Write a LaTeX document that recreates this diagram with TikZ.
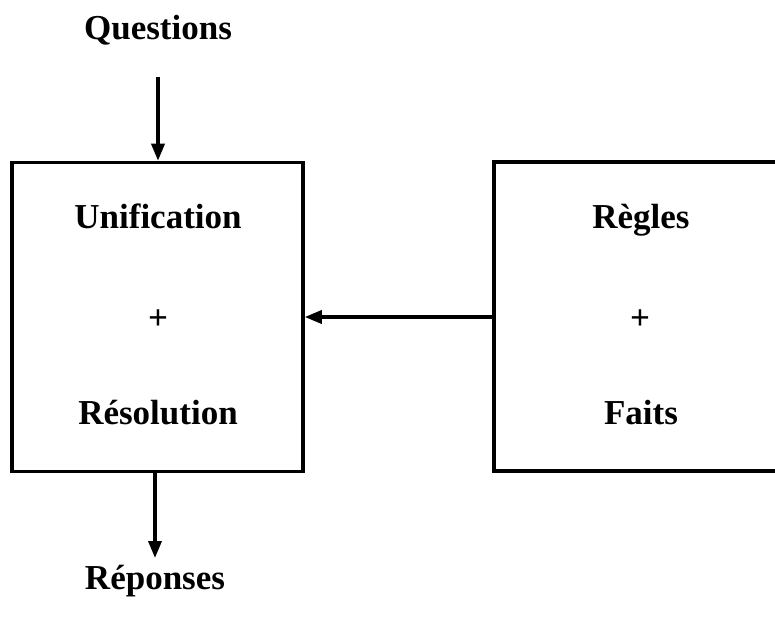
\documentclass[tikz,border=0pt]{standalone}
\usepackage{fontspec}
\setmainfont{Liberation Serif}
\usetikzlibrary{arrows.meta}
\begin{document}
\begin{tikzpicture}[x=1pt,y=-1pt,
  box/.style={draw,line width=3.5pt,minimum width=291pt,minimum height=309pt,inner sep=0pt},
  lbl/.style={font=\fontsize{35}{40}\selectfont\bfseries,inner sep=0pt,anchor=base},
  conn/.style={line width=3.5pt,-{Triangle[length=17pt,width=13pt]}}]
\useasboundingbox (0,0) rectangle (775,617);
\clip (0,0) rectangle (775,617);
\node[box] (L) at (157.5,317) {};
\node[box,minimum width=300pt] (R) at (644,316.5) {};
\node[lbl] (q) at (158,40) {Questions};
\node[lbl] (u) at (158,229) {Unification};
\node[lbl] (p1) at (158,329) {+};
\node[lbl] (res) at (158,424) {Résolution};
\node[lbl] (rg) at (641,229) {Règles};
\node[lbl] (p2) at (640,329) {+};
\node[lbl] (f) at (641,424) {Faits};
\node[lbl] (rep) at (155,589) {Réponses};
\coordinate (qs) at (158,77);
\coordinate (re) at (155,558);
\draw[conn] (qs) -- (L.north -| qs);
\draw[conn] (L.south -| re) -- (re);
\draw[conn] (R.west |- 0,317) -- (L.east |- 0,317);
\end{tikzpicture}
\end{document}
